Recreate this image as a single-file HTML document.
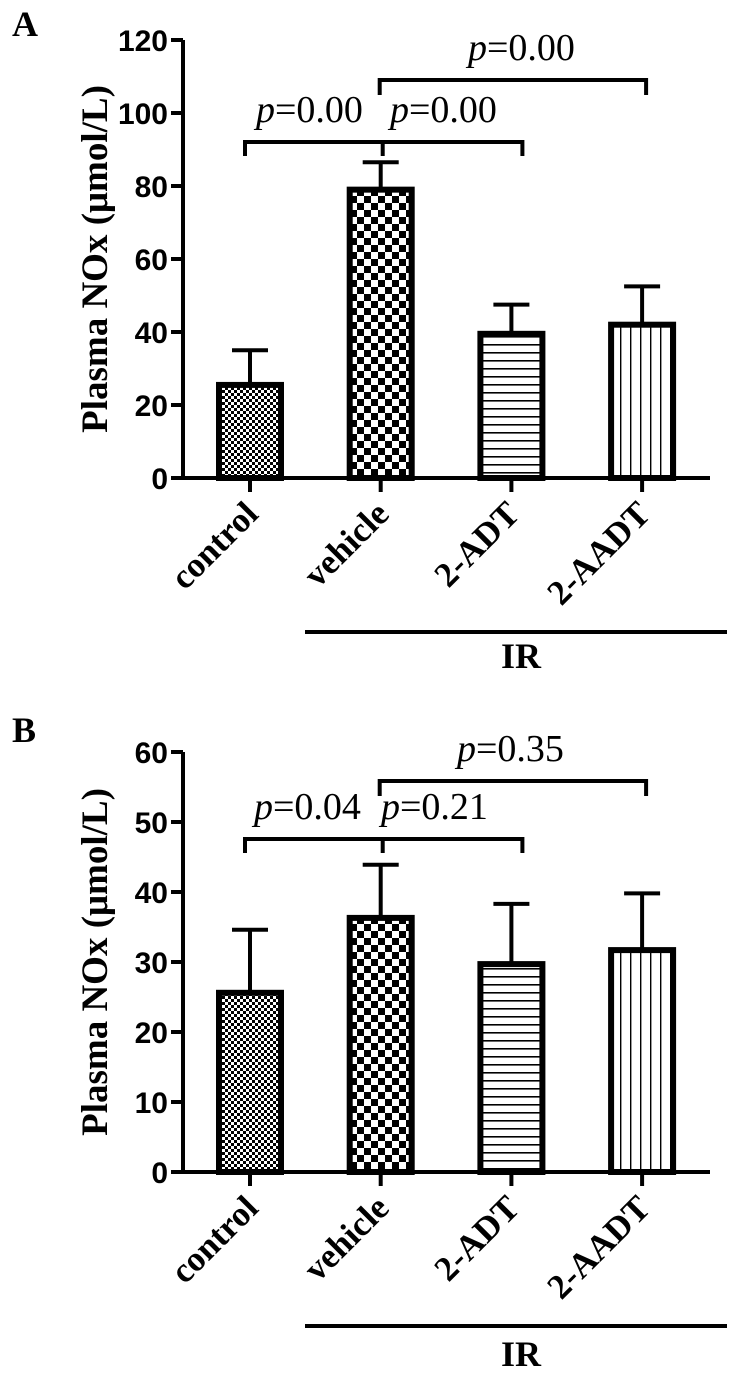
<!DOCTYPE html>
<html><head><meta charset="utf-8"><style>
html,body{margin:0;padding:0;background:#fff;}
svg{display:block;}
.tick{font-family:"Liberation Sans",sans-serif;font-weight:bold;font-size:30px;}
.yt{font-family:"Liberation Serif",serif;font-weight:bold;font-size:37px;}
.xl{font-family:"Liberation Serif",serif;font-weight:bold;font-size:35px;}
.pv{font-family:"Liberation Serif",serif;font-size:38px;}
.pan{font-family:"Liberation Serif",serif;font-weight:bold;font-size:36px;}
.irl{font-family:"Liberation Serif",serif;font-weight:bold;font-size:36px;}
</style></head><body>
<svg id="fig" width="744" height="1384" viewBox="0 0 744 1384" xmlns="http://www.w3.org/2000/svg">
<defs>
<pattern id="pFine" width="6" height="6" patternUnits="userSpaceOnUse"><rect width="6" height="6" fill="#fff"/><rect width="3" height="3" fill="#000"/><rect x="3" y="3" width="3" height="3" fill="#000"/></pattern>
<pattern id="pCoarse" width="14" height="14" patternUnits="userSpaceOnUse"><rect width="14" height="14" fill="#fff"/><rect width="7" height="7" fill="#000"/><rect x="7" y="7" width="7" height="7" fill="#000"/></pattern>
<pattern id="pHoriz" width="8" height="8" patternUnits="userSpaceOnUse"><rect width="8" height="8" fill="#fff"/><rect y="0" width="8" height="1.6" fill="#000"/></pattern>
<pattern id="pVert" width="10" height="10" patternUnits="userSpaceOnUse"><rect width="10" height="10" fill="#fff"/><rect x="0" width="1.4" height="10" fill="#000"/></pattern>
</defs>
</svg>
<script>
const categories = ["control","vehicle","2-ADT","2-AADT"];
const meansA = [25.5, 79, 39.5, 42];
const errA = [35, 86.5, 47.5, 52.5];
const ticksA = [0,20,40,60,80,100,120];
const meansB = [25.6, 36.3, 29.7, 31.7];
const errB = [34.6, 43.9, 38.3, 39.8];
const ticksB = [0,10,20,30,40,50,60];
const pA = ["p=0.00","p=0.00","p=0.00"];
const pB = ["p=0.04","p=0.21","p=0.35"];

const NS="http://www.w3.org/2000/svg";
const svg=document.getElementById('fig');
const fills=["url(#pFine)","url(#pCoarse)","url(#pHoriz)","url(#pVert)"];
function mk(tag,attrs,parent,txt){const e=document.createElementNS(NS,tag);for(const k in attrs)e.setAttribute(k,attrs[k]);if(txt!==undefined)e.textContent=txt;(parent||svg).appendChild(e);return e;}

function panel(cfg){
  const g=mk('g',{});
  
  
  const ymax=cfg.ticks[cfg.ticks.length-1];
  const y=v=>cfg.y0-(v/ymax)*(cfg.y0-cfg.yTop);
  const x=i=>250+i*130.7;
  const L=mk('text',{x:12,y:cfg.letterY,class:'pan'},g,cfg.id);
  
  
  const ax=mk('line',{x1:183,y1:cfg.yTop,x2:183,y2:cfg.y0,stroke:'#000','stroke-width':4},g);
  
  
  cfg.ticks.forEach(t=>{
    mk('line',{x1:171,y1:y(t),x2:183,y2:y(t),stroke:'#000','stroke-width':4},g);
    const tl=mk('text',{x:168,y:y(t)+11,'text-anchor':'end',class:'tick'},g,String(t));
    
    
  });
  const cy=(cfg.y0+cfg.yTop)/2;
  const yt=mk('text',{x:0,y:0,class:'yt','text-anchor':'middle',transform:`translate(107,${cy}) rotate(-90)`},g,'Plasma NOx (μmol/L)');
  
  
  cfg.means.forEach((m,i)=>{
    const cx=x(i);
    const eb=mk('line',{x1:cx,y1:y(m),x2:cx,y2:y(cfg.err[i]),stroke:'#000','stroke-width':4},g);
    
    
    mk('line',{x1:cx-18,y1:y(cfg.err[i]),x2:cx+18,y2:y(cfg.err[i]),stroke:'#000','stroke-width':4},g);
    const b=mk('rect',{x:cx-31,y:y(m),width:62,height:cfg.y0-y(m),fill:fills[i],stroke:'#000','stroke-width':6},g);
    
    
    mk('line',{x1:cx,y1:cfg.y0,x2:cx,y2:cfg.y0+14,stroke:'#000','stroke-width':4},g);
    const xl=mk('text',{x:0,y:0,class:'xl','text-anchor':'end',transform:`translate(${cx+10},${cfg.y0+38}) rotate(-45)`},g,categories[i]);
    
    
  });
  const xa=mk('line',{x1:181,y1:cfg.y0,x2:710,y2:cfg.y0,stroke:'#000','stroke-width':4},g);
  
  
  const b1=mk('path',{d:`M${x(0)-5},${cfg.br1+14} V${cfg.br1} H${x(2)+11} V${cfg.br1+14} M${x(1)+2},${cfg.br1} V${cfg.br1+14}`,fill:'none',stroke:'#000','stroke-width':4},g);
  
  
  const b2=mk('path',{d:`M${x(1)-1},${cfg.br2+15} V${cfg.br2} H${x(3)+4} V${cfg.br2+15}`,fill:'none',stroke:'#000','stroke-width':4},g);
  
  
  const pos=[[cfg.px[0],cfg.br1-20],[cfg.px[1],cfg.br1-20],[cfg.px[2],cfg.br2-20]];
  cfg.p.forEach((s,i)=>{
    const t=mk('text',{x:pos[i][0],y:pos[i][1],class:'pv'},g);
    
    
    mk('tspan',{'font-style':'italic'},t,s.slice(0,1));
    mk('tspan',{},t,s.slice(1));
  });
  const ir=mk('line',{x1:305,y1:cfg.irY,x2:727,y2:cfg.irY,stroke:'#000','stroke-width':4},g);
  
  
  const irt=mk('text',{x:521,y:cfg.irY+cfg.irGap,'text-anchor':'middle',class:'irl'},g,'IR');
  
  
}
panel({id:'A',letterY:36,yTop:40,y0:478,ticks:ticksA,means:meansA,err:errA,br1:142,br2:80,px:[256,390,468],p:pA,irY:632,irGap:36});
panel({id:'B',letterY:742,yTop:752,y0:1172,ticks:ticksB,means:meansB,err:errB,br1:839,br2:781,px:[254,381,457],p:pB,irY:1326,irGap:40});
</script>
</body></html>
